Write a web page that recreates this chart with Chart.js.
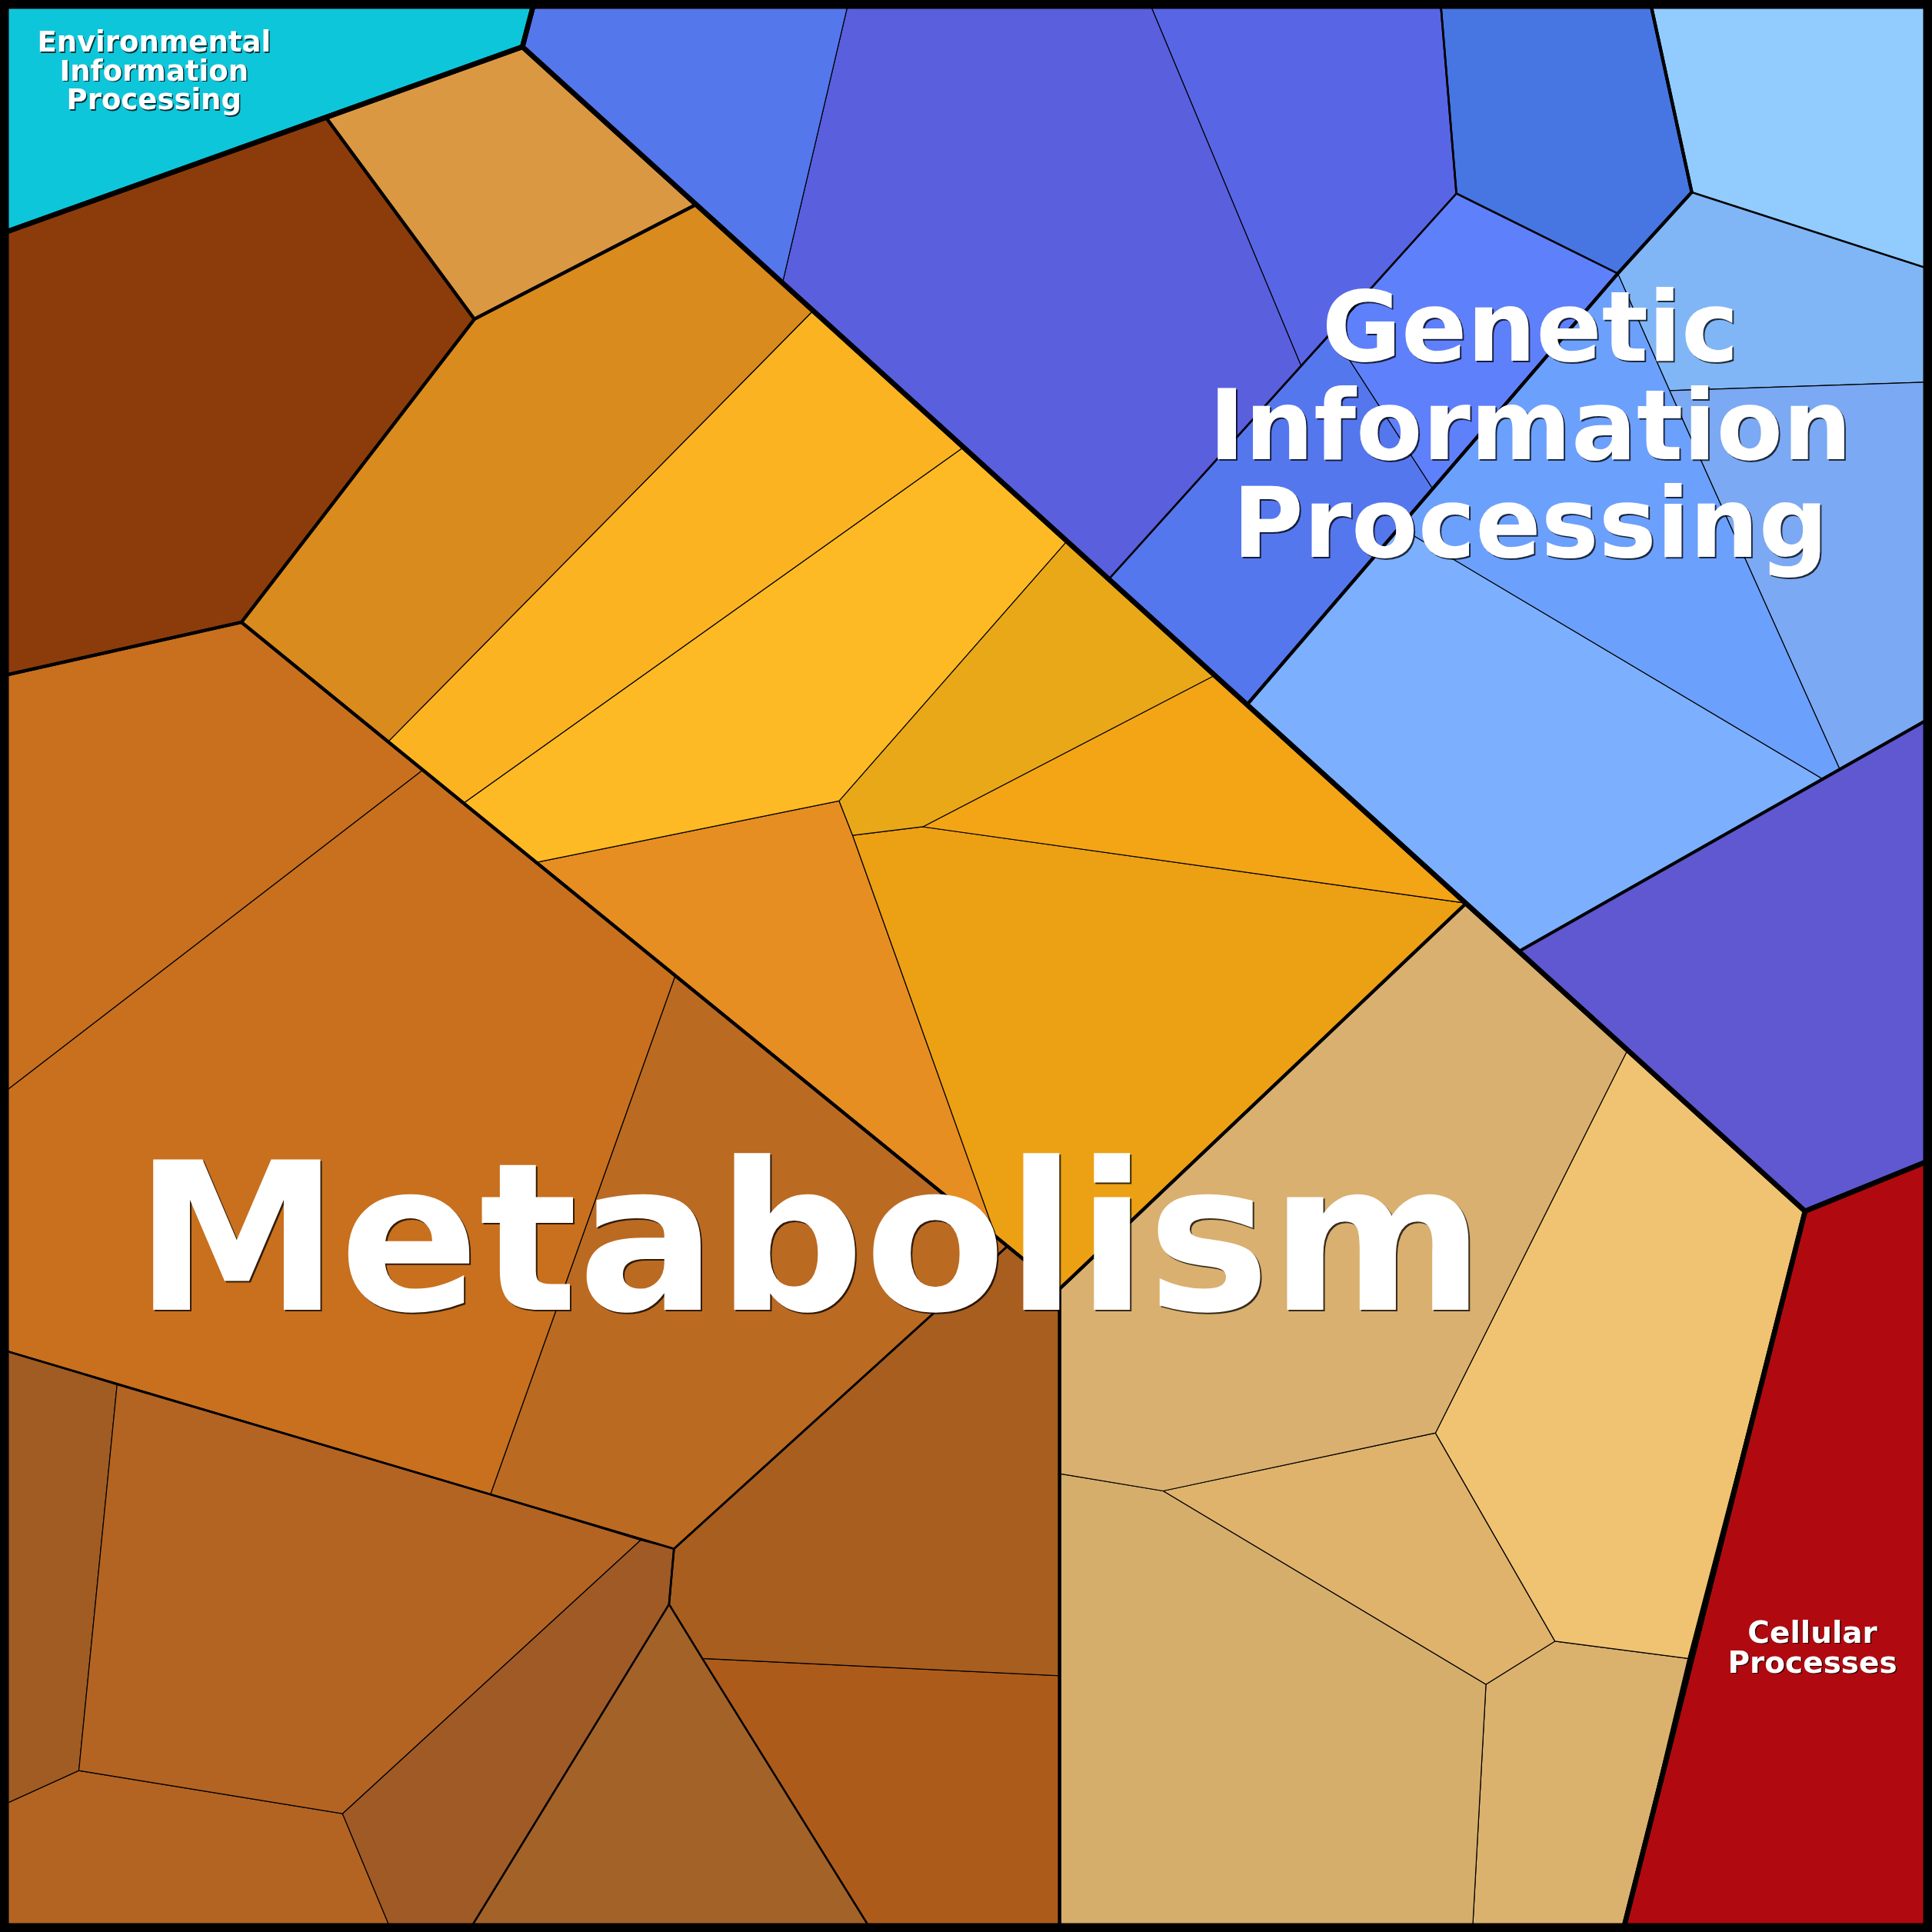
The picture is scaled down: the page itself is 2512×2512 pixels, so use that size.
<!DOCTYPE html>
<html>
<head>
<meta charset="utf-8">
<script src="https://cdn.jsdelivr.net/npm/chart.js@4.4.1/dist/chart.umd.min.js"></script>
<style>
  body { margin: 0; background: #000; }
  #wrap { width: 2512px; height: 2512px; }
</style>
</head>
<body>
<div id="wrap"><canvas id="chart" width="2512" height="2512"></canvas></div>
<script>
// cell outlines of the voronoi treemap, in plot units (0..1568 both ways, y down)
const envCells = [
    [[0,0],[434,0],[424,38],[0,190]]
];
const envColors = ['#0EC6DA'];

const geneticCells = [
    [[434,0],[689,0],[635,230],[424,38]],
    [[689,0],[932,0],[1056,297],[900,470],[635,230]],
    [[932,0],[1169,0],[1182,157],[1081,270],[1056,297]],
    [[1169,0],[1339,0],[1373,156],[1313,222],[1182,157]],
    [[1182,157],[1313,222],[1163,397],[1081,270]],
    [[1081,270],[1163,397],[1012,572],[900,470]],
    [[1313,222],[1355,317],[1493,624],[1479,632],[1136,428]],
    [[1136,428],[1479,632],[1233,772],[1012,572]],
    [[1355,317],[1568,310],[1568,582],[1493,624]],
    [[1313,222],[1373,156],[1568,219],[1568,310],[1355,317]],
    [[1339,0],[1568,0],[1568,219],[1373,156]],
    [[1233,772],[1568,582],[1568,941],[1465,983]]
];
const geneticColors = ['#5577EC','#5A5FDD','#5866E6','#4776E3','#5F80FB','#5577EE',
    '#6CA0FD','#7CB0FE','#7BA9F3','#80B6F6','#92CCFE','#5F58D0'];

const metabolismCells = [
    [[265,96],[424,38],[565,166],[385,259]],
    [[0,190],[265,96],[385,259],[196,505],[0,549]],
    [[385,259],[565,166],[660,252],[315,602],[196,505]],
    [[660,252],[782,363],[376,652],[315,602]],
    [[782,363],[866,439],[681,650],[435,700],[376,652]],
    [[866,439],[986,548],[749,671],[692,678],[681,650]],
    [[986,548],[1190,733],[749,671]],
    [[692,678],[749,671],[1190,733],[860,1046],[808,1003]],
    [[435,700],[681,650],[692,678],[808,1003]],
    [[0,549],[196,505],[343,625],[0,889]],
    [[0,889],[343,625],[548,792],[398,1213],[0,1095]],
    [[548,792],[818,1011],[547,1257],[398,1213]],
    [[547,1257],[818,1011],[860,1046],[860,1360],[570,1346],[543,1302]],
    [[570,1346],[860,1360],[860,1568],[708,1568]],
    [[543,1302],[570,1346],[708,1568],[380,1568]],
    [[520,1250],[547,1257],[543,1302],[380,1568],[318,1568],[278,1472]],
    [[95,1124],[398,1213],[520,1250],[278,1472],[64,1437]],
    [[0,1095],[95,1124],[64,1437],[0,1466]],
    [[0,1466],[64,1437],[278,1472],[318,1568],[0,1568]],
    [[860,1046],[1190,733],[1321,852],[1165,1163],[944,1210],[860,1196]],
    [[1321,852],[1465,983],[1370,1346],[1262,1332],[1165,1163]],
    [[944,1210],[1165,1163],[1262,1332],[1206,1367]],
    [[860,1196],[944,1210],[1206,1367],[1195,1568],[860,1568]],
    [[1206,1367],[1262,1332],[1370,1346],[1317,1568],[1195,1568]]
];
const metabolismColors = ['#DB9842','#8C3C0A','#D98B1E','#FCB322','#FEBA24','#E9A817',
    '#F3A516','#ECA013','#E68E22','#C8701E','#C8701E','#BB6A22','#A85E1E','#AD5B1B',
    '#A36228','#A05A26','#B36422','#A05C22','#B36422','#D9B06F','#F0C372','#DFB36C',
    '#D5AE6C','#DAB26E'];

const cellularCells = [
    [[1465,983],[1568,941],[1568,1568],[1317,1568]]
];
const cellularColors = ['#B00A10'];

// outlines of the hierarchy levels
const groupOutlines = [
    [[0,0],[434,0],[424,38],[0,190]],
    [[434,0],[1568,0],[1568,941],[1465,983],[424,38]],
    [[0,190],[424,38],[1465,983],[1317,1568],[0,1568]],
    [[1465,983],[1568,941],[1568,1568],[1317,1568]]
];
const subgroupOutlines = [
    [[265,96],[424,38],[565,166],[385,259]],
    [[0,190],[265,96],[385,259],[196,505],[0,549]],
    [[385,259],[565,166],[1190,733],[860,1046],[196,505]],
    [[0,549],[196,505],[860,1046],[860,1568],[0,1568]],
    [[860,1046],[1190,733],[1465,983],[1317,1568],[860,1568]],
    [[434,0],[1339,0],[1373,156],[1313,222],[1012,572],[424,38]],
    [[1313,222],[1373,156],[1339,0],[1568,0],[1568,582],[1233,772],[1012,572]]
];
const minorOutlines = [
    [[0,549],[196,505],[818,1011],[547,1257],[0,1095]],
    [[547,1257],[818,1011],[860,1046],[860,1568],[708,1568],[570,1346],[543,1302]],
    [[0,1095],[547,1257],[543,1302],[380,1568],[0,1568]],
    [[434,0],[1169,0],[1182,157],[900,470],[424,38]],
    [[1169,0],[1339,0],[1373,156],[1313,222],[1182,157]],
    [[1339,0],[1568,0],[1568,219],[1373,156]]
];
const frameOutline = [[0,0],[1568,0],[1568,1568],[0,1568]];

// labels
const labelLines = [
    ['Environmental', 'Information', 'Processing'],
    ['Genetic', 'Information', 'Processing'],
    ['Metabolism'],
    ['Cellular', 'Processes']
];
const labelAnchors = [[125,42],[1242,293],[657,1063],[1471,1333]];
const labelSizes = [37, 126, 268, 39];

function closed(pts) {
    let d = pts.map(p => ({x: p[0], y: p[1]}));
    d.push(d[0]);
    return d;
}

function cellSets(cells, colors) {
    return cells.map((c, i) => ({
        data: closed(c),
        showLine: true,
        fill: 'shape',
        backgroundColor: colors[i],
        borderColor: '#000',
        borderWidth: 1.2,
        pointRadius: 0,
        order: 10
    }));
}

function outlineSets(list, width, order) {
    return list.map(c => ({
        data: closed(c),
        showLine: true,
        fill: false,
        borderColor: '#000',
        borderWidth: width,
        borderJoinStyle: 'round',
        pointRadius: 0,
        order: order
    }));
}

let datasets = [].concat(
    cellSets(envCells, envColors),
    cellSets(geneticCells, geneticColors),
    cellSets(metabolismCells, metabolismColors),
    cellSets(cellularCells, cellularColors),
    outlineSets(minorOutlines, 2.6, 5),
    outlineSets(subgroupOutlines, 4.2, 4),
    outlineSets(groupOutlines, 6.5, 3),
    outlineSets([frameOutline], 23, 2)
);

const labelPlugin = {
    id: 'groupLabels',
    afterDatasetsDraw(chart) {
        const ctx = chart.ctx;
        const xs = chart.scales.x, ys = chart.scales.y;
        ctx.save();
        ctx.textAlign = 'center';
        ctx.textBaseline = 'alphabetic';
        labelLines.forEach((lines, i) => {
            const size = labelSizes[i];
            ctx.font = 'bold ' + size + 'px "DejaVu Sans"';
            const px = xs.getPixelForValue(labelAnchors[i][0]);
            const py0 = ys.getPixelForValue(labelAnchors[i][1]);
            const off = size > 100 ? 2 : 1.5;
            lines.forEach((t, k) => {
                const py = py0 + k * size * 1.01;
                ctx.fillStyle = 'rgba(0,0,0,0.75)';
                ctx.fillText(t, px + off, py + off);
                ctx.fillStyle = '#fff';
                ctx.fillText(t, px, py);
            });
        });
        ctx.restore();
    }
};

new Chart(document.getElementById('chart'), {
    type: 'scatter',
    data: { datasets: datasets },
    options: {
        responsive: false,
        animation: false,
        devicePixelRatio: 1,
        layout: { padding: 0 },
        scales: {
            x: { type: 'linear', min: 0, max: 1568, display: false },
            y: { type: 'linear', min: 0, max: 1568, reverse: true, display: false }
        },
        elements: { line: { tension: 0 }, point: { radius: 0 } },
        plugins: { legend: { display: false }, tooltip: { enabled: false } }
    },
    plugins: [labelPlugin]
});
</script>
</body>
</html>
